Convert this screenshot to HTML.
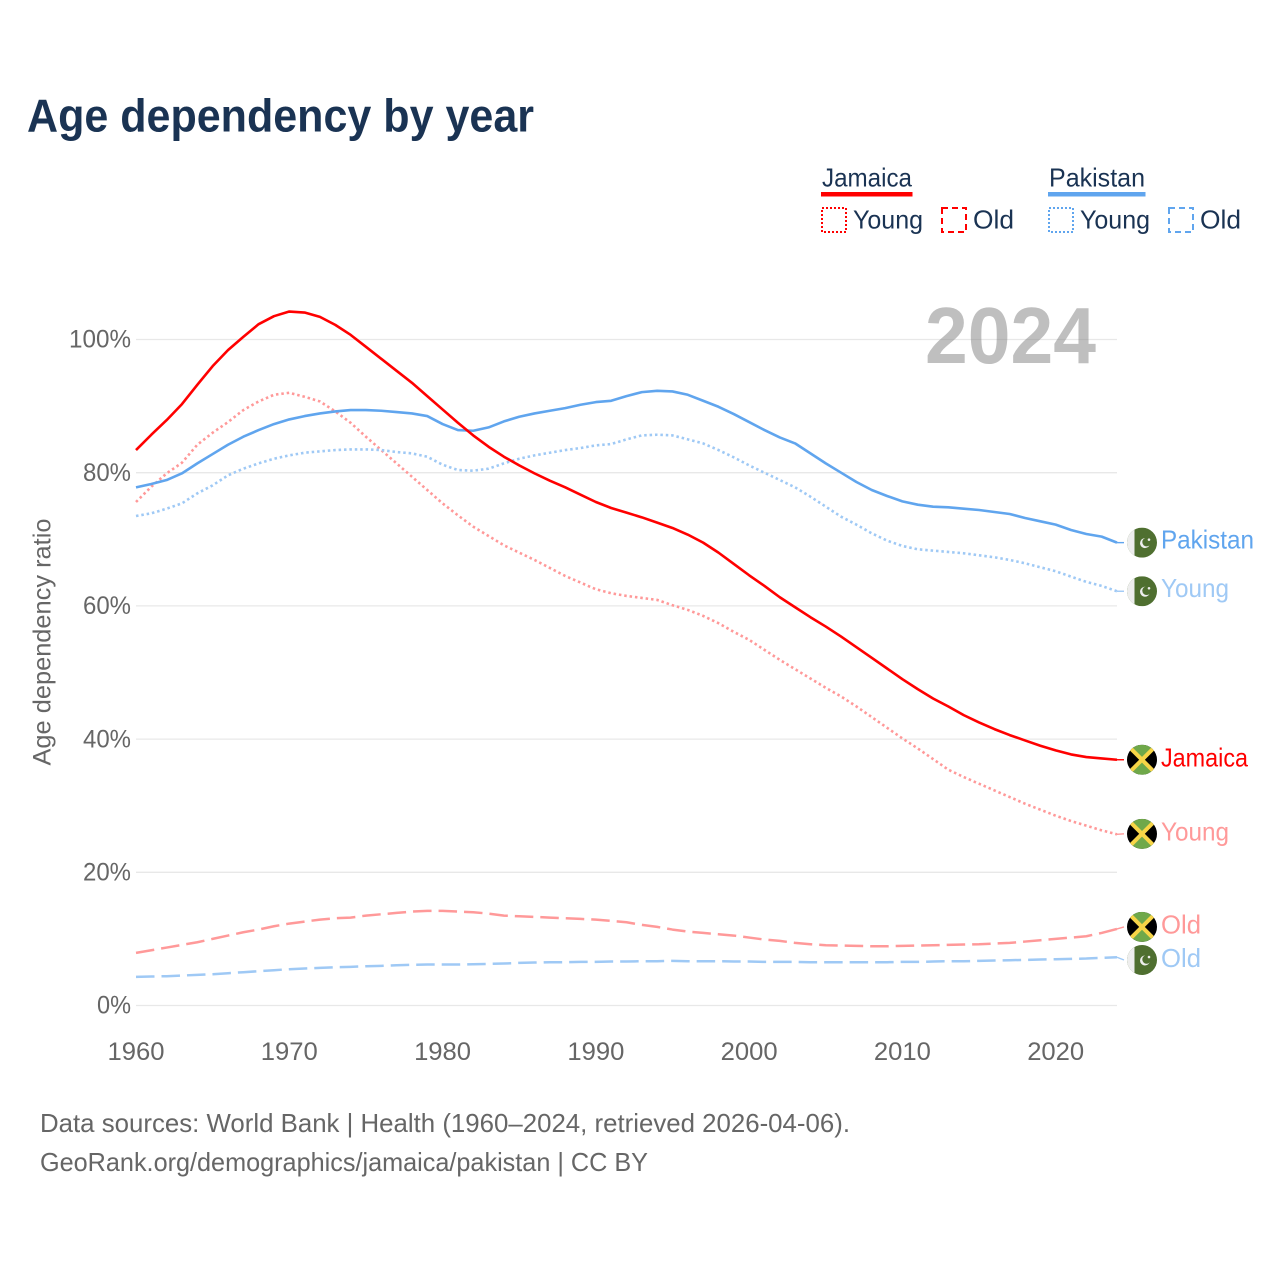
<!DOCTYPE html>
<html lang="en">
<head>
<meta charset="utf-8">
<title>Age dependency by year</title>
<style>
html,body{margin:0;padding:0;background:#fff}
svg{display:block}
text{font-family:"Liberation Sans",sans-serif}
</style>
</head>
<body>
<svg id="chart" xmlns="http://www.w3.org/2000/svg" width="1280" height="1280" viewBox="0 0 1280 1280">
  <defs>
    <clipPath id="flag-clip"><circle cx="0" cy="0" r="15"/></clipPath>
    <symbol id="flag-pk" overflow="visible" viewBox="-15 -15 30 30">
      <g clip-path="url(#flag-clip)">
        <rect x="-15" y="-15" width="30" height="30" fill="#4f6f30"/>
        <rect x="-15" y="-15" width="7.5" height="30" fill="#eeeeee"/>
        <circle cx="3" cy="0.5" r="5" fill="#eeeeee"/>
        <circle cx="4.6" cy="-0.6" r="4.3" fill="#4f6f30"/>
        <circle cx="7" cy="-3" r="1.3" fill="#eeeeee"/>
      </g>
    </symbol>
    <symbol id="flag-jm" overflow="visible" viewBox="-15 -15 30 30">
      <g clip-path="url(#flag-clip)">
        <rect x="-15" y="-15" width="30" height="30" fill="#000000"/>
        <polygon points="-15,-15 15,-15 0,0" fill="#6fa84a"/>
        <polygon points="-15,15 15,15 0,0" fill="#6fa84a"/>
        <line x1="-15" y1="-15" x2="15" y2="15" stroke="#f7d547" stroke-width="4"/>
        <line x1="-15" y1="15" x2="15" y2="-15" stroke="#f7d547" stroke-width="4"/>
      </g>
    </symbol>
  </defs>

  <text x="27" y="131.5" font-size="46" font-weight="700" fill="#1a3353" textLength="507" lengthAdjust="spacingAndGlyphs">Age dependency by year</text>

  <g font-size="26" fill="#1a3353">
    <text x="822" y="186.5" textLength="90" lengthAdjust="spacingAndGlyphs">Jamaica</text>
    <rect x="821" y="192" width="91.5" height="4.5" fill="#ff0000"/>
    <rect x="822" y="208" width="24" height="24" fill="none" stroke="#ff0000" stroke-width="2" stroke-dasharray="2 2"/>
    <text x="853" y="228.5" textLength="70" lengthAdjust="spacingAndGlyphs">Young</text>
    <rect x="942" y="208" width="24" height="24" fill="none" stroke="#ff0000" stroke-width="2" stroke-dasharray="6 4"/>
    <text x="973" y="228.5" textLength="41" lengthAdjust="spacingAndGlyphs">Old</text>

    <text x="1049" y="186.5" textLength="96" lengthAdjust="spacingAndGlyphs">Pakistan</text>
    <rect x="1048" y="192" width="97.5" height="4.5" fill="#60a5ee"/>
    <rect x="1049" y="208" width="24" height="24" fill="none" stroke="#60a5ee" stroke-width="2" stroke-dasharray="2 2"/>
    <text x="1080" y="228.5" textLength="70" lengthAdjust="spacingAndGlyphs">Young</text>
    <rect x="1169" y="208" width="24" height="24" fill="none" stroke="#60a5ee" stroke-width="2" stroke-dasharray="6 4"/>
    <text x="1200" y="228.5" textLength="41" lengthAdjust="spacingAndGlyphs">Old</text>
  </g>

  <g id="grid"></g>
  <text x="925" y="363" font-size="80" font-weight="700" fill="#808080" fill-opacity="0.5" textLength="171" lengthAdjust="spacingAndGlyphs">2024</text>
  <g id="y-axis"></g>
  <g id="x-axis"></g>
  <text transform="translate(50.5,642) rotate(-90)" text-anchor="middle" font-size="25" fill="#666666" textLength="247" lengthAdjust="spacingAndGlyphs">Age dependency ratio</text>
  <g id="series"></g>
  <g id="end-labels"></g>

  <text x="40" y="1132" font-size="26" fill="#666666" textLength="810" lengthAdjust="spacingAndGlyphs">Data sources: World Bank | Health (1960–2024, retrieved 2026-04-06).</text>
  <text x="40" y="1171" font-size="26" fill="#666666" textLength="608" lengthAdjust="spacingAndGlyphs">GeoRank.org/demographics/jamaica/pakistan | CC BY</text>
</svg>
<script>
const years = [
  1960,1961,1962,1963,1964,1965,1966,1967,1968,1969,
  1970,1971,1972,1973,1974,1975,1976,1977,1978,1979,
  1980,1981,1982,1983,1984,1985,1986,1987,1988,1989,
  1990,1991,1992,1993,1994,1995,1996,1997,1998,1999,
  2000,2001,2002,2003,2004,2005,2006,2007,2008,2009,
  2010,2011,2012,2013,2014,2015,2016,2017,2018,2019,
  2020,2021,2022,2023,2024
];
const jamaicaTotal = [
  83.4,85.7,87.9,90.3,93.2,96.0,98.4,100.4,102.3,103.5,
  104.2,104.05,103.4,102.2,100.7,98.9,97.1,95.3,93.5,91.5,
  89.5,87.5,85.6,83.9,82.4,81.1,79.9,78.8,77.8,76.7,
  75.6,74.7,74.0,73.3,72.5,71.7,70.7,69.5,68.0,66.3,
  64.6,63.0,61.3,59.8,58.3,56.9,55.4,53.8,52.2,50.6,
  49.0,47.5,46.1,44.9,43.6,42.5,41.5,40.6,39.8,39.0,
  38.3,37.7,37.3,37.1,36.9
];
const jamaicaYoung = [
  75.6,77.9,79.9,81.5,84.2,86.0,87.6,89.4,90.7,91.7,
  92.0,91.4,90.7,89.2,87.5,85.4,83.4,81.4,79.4,77.4,
  75.4,73.6,71.9,70.5,69.1,68.0,66.9,65.7,64.5,63.5,
  62.5,61.9,61.5,61.2,60.9,60.1,59.4,58.5,57.4,56.1,
  54.9,53.4,51.9,50.5,49.1,47.7,46.4,44.9,43.3,41.7,
  40.1,38.6,37.0,35.4,34.3,33.3,32.3,31.3,30.3,29.4,
  28.5,27.7,27.0,26.3,25.7
];
const jamaicaOld = [
  7.9,8.3,8.7,9.1,9.5,10.0,10.5,11.0,11.4,11.9,
  12.3,12.6,12.9,13.1,13.2,13.5,13.7,13.9,14.1,14.2,
  14.2,14.1,14.0,13.8,13.5,13.4,13.3,13.2,13.1,13.0,
  12.9,12.7,12.5,12.1,11.8,11.4,11.1,10.9,10.7,10.5,
  10.2,9.9,9.7,9.4,9.2,9.05,9.0,8.95,8.9,8.9,
  8.95,9.0,9.05,9.1,9.15,9.2,9.3,9.4,9.6,9.8,
  10.0,10.2,10.4,10.9,11.5
];
const pakistanTotal = [
  77.8,78.3,78.9,79.9,81.4,82.8,84.2,85.4,86.4,87.3,
  88.0,88.5,88.9,89.2,89.4,89.4,89.3,89.1,88.9,88.5,
  87.3,86.4,86.3,86.8,87.7,88.4,88.9,89.3,89.7,90.2,
  90.6,90.8,91.5,92.1,92.3,92.2,91.7,90.8,89.9,88.8,
  87.6,86.4,85.3,84.4,82.9,81.4,80.0,78.6,77.4,76.5,
  75.7,75.2,74.9,74.8,74.6,74.4,74.1,73.8,73.2,72.7,
  72.2,71.4,70.8,70.4,69.5
];
const pakistanYoung = [
  73.5,73.9,74.6,75.4,76.9,78.1,79.6,80.6,81.4,82.1,
  82.6,83.0,83.2,83.4,83.5,83.5,83.4,83.1,82.9,82.4,
  81.2,80.4,80.3,80.6,81.4,82.1,82.6,83.0,83.4,83.7,
  84.1,84.3,85.0,85.6,85.7,85.6,85.0,84.4,83.4,82.3,
  81.1,80.0,78.9,77.8,76.4,74.9,73.4,72.2,70.9,69.8,
  69.0,68.5,68.3,68.1,67.9,67.6,67.3,66.9,66.4,65.8,
  65.2,64.4,63.6,63.0,62.2
];
const pakistanOld = [
  4.3,4.35,4.4,4.5,4.6,4.7,4.85,5.0,5.15,5.3,
  5.45,5.55,5.65,5.75,5.8,5.9,5.95,6.05,6.1,6.15,
  6.15,6.15,6.2,6.25,6.3,6.4,6.45,6.5,6.5,6.55,
  6.55,6.6,6.6,6.65,6.65,6.7,6.65,6.65,6.65,6.6,
  6.6,6.55,6.55,6.55,6.5,6.5,6.5,6.5,6.5,6.5,
  6.55,6.55,6.6,6.65,6.65,6.7,6.75,6.8,6.85,6.9,
  6.95,7.0,7.05,7.15,7.25
];
const yTicks = [0,20,40,60,80,100];
const xTicks = [1960,1970,1980,1990,2000,2010,2020];

const SVG_NS = 'http://www.w3.org/2000/svg';
const xScale = function (yr) { return 136 + (yr - 1960) * (981 / 64); };
const yScale = function (v) { return 1005.5 - v * 6.66; };

function make(tag, attrs, parent) {
  const el = document.createElementNS(SVG_NS, tag);
  Object.keys(attrs).forEach(function (k) { el.setAttribute(k, attrs[k]); });
  parent.appendChild(el);
  return el;
}

const gridG = document.getElementById('grid');
const yAxisG = document.getElementById('y-axis');
const xAxisG = document.getElementById('x-axis');
const seriesG = document.getElementById('series');
const labelG = document.getElementById('end-labels');

yTicks.forEach(function (t) {
  const line = make('line', {x1: 136, x2: 1117, y1: yScale(t), y2: yScale(t), stroke: '#e8e8e8', 'stroke-width': 1.3}, gridG);
  
  
  const label = t + '%';
  const tx = make('text', {x: 131, y: yScale(t) + 8.2, 'text-anchor': 'end', 'font-size': 25, fill: '#666666', textLength: label.length * 14 + 6, lengthAdjust: 'spacingAndGlyphs'}, yAxisG);
  tx.textContent = label;
  
  
});

xTicks.forEach(function (t) {
  const tx = make('text', {x: xScale(t), y: 1060, 'text-anchor': 'middle', 'font-size': 25, fill: '#666666', textLength: 57, lengthAdjust: 'spacingAndGlyphs'}, xAxisG);
  tx.textContent = t;
  
  
});

const seriesList = [
  {id: 'jamaica-old', vals: jamaicaOld, color: '#ff9999', width: 2.5, dash: '18.5 7', label: 'Old', len: 40, flag: 'flag-jm', nudge: -2, textShift: 0},
  {id: 'pakistan-old', vals: pakistanOld, color: '#9fc9f5', width: 2.5, dash: '18.5 7', label: 'Old', len: 40, flag: 'flag-pk', nudge: 2.8, textShift: 0},
  {id: 'jamaica-young', vals: jamaicaYoung, color: '#ff9999', width: 2.6, dash: '2.5 2.9', label: 'Young', len: 68, flag: 'flag-jm', nudge: -0.5, textShift: 0},
  {id: 'pakistan-young', vals: pakistanYoung, color: '#9fc9f5', width: 2.6, dash: '2.5 2.9', label: 'Young', len: 68, flag: 'flag-pk', nudge: 0, textShift: -1.2},
  {id: 'pakistan-total', vals: pakistanTotal, color: '#60a5ee', width: 2.6, dash: '', label: 'Pakistan', len: 93, flag: 'flag-pk', nudge: 0, textShift: -1},
  {id: 'jamaica-total', vals: jamaicaTotal, color: '#ff0000', width: 2.6, dash: '', label: 'Jamaica', len: 87, flag: 'flag-jm', nudge: 0, textShift: 0}
];

seriesList.forEach(function (s) {
  const pts = s.vals.map(function (v, i) { return xScale(years[i]).toFixed(2) + ',' + yScale(v).toFixed(2); }).join(' ');
  const attrs = {points: pts, fill: 'none', stroke: s.color, 'stroke-width': s.width, 'stroke-linejoin': 'round'};
  if (s.dash) { attrs['stroke-dasharray'] = s.dash; }
  const line = make('polyline', attrs, seriesG);
  
  

  const lastVal = s.vals[s.vals.length - 1];
  const lastYear = years[years.length - 1];
  const ly = yScale(lastVal) + s.nudge;
  const conn = make('polyline', {points: xScale(lastYear) + ',' + yScale(lastVal) + ' 1124,' + ly, fill: 'none', stroke: s.color, 'stroke-width': 1.4}, labelG);
  
  

  const flag = make('use', {href: '#' + s.flag, x: 1127, y: ly - 15, width: 30, height: 30}, labelG);
  
  

  const tx = make('text', {x: 1161, y: ly + 6.8 + s.textShift, 'font-size': 26, fill: s.color, textLength: s.len, lengthAdjust: 'spacingAndGlyphs'}, labelG);
  tx.textContent = s.label;
  
  
});
</script>
</body>
</html>
